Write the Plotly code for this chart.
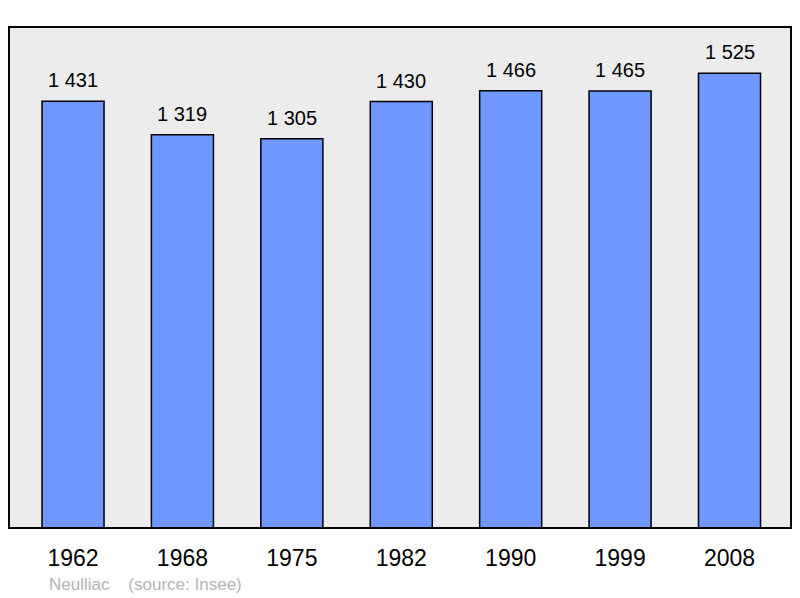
import plotly.graph_objects as go

years = ["1962", "1968", "1975", "1982", "1990", "1999", "2008"]
population = [1431, 1319, 1305, 1430, 1466, 1465, 1525]
labels = ["1 431", "1 319", "1 305", "1 430", "1 466", "1 465", "1 525"]
source_text = "Neulliac    (source: Insee)"

xs = list(range(len(years)))
FONT = "Liberation Sans, Arial, sans-serif"

fig = go.Figure()
fig.add_trace(go.Bar(
    x=xs, y=population, width=0.567,
    marker=dict(color="#7096ff", line=dict(color="#000000", width=1.5)),
    hoverinfo="skip",
))

for x, y, t in zip(xs, population, labels):
    fig.add_annotation(x=x, y=y, text=t, showarrow=False, xanchor="center",
                       yanchor="middle", yshift=21,
                       font=dict(family=FONT, size=20, color="#000"))

fig.add_annotation(x=38 / 782, y=-56 / 501, xref="paper", yref="paper",
                   xanchor="left", yanchor="middle", text=source_text.replace(" ", "&nbsp;"),
                   showarrow=False,
                   font=dict(family=FONT, size=17, color="#b4b4b4"))

fig.add_shape(type="rect", xref="paper", yref="paper", x0=0, x1=1, y0=0, y1=1,
              line=dict(color="#000", width=2), fillcolor="rgba(0,0,0,0)", layer="above")

fig.update_layout(
    width=792, height=590,
    margin=dict(l=1, r=9, t=19, b=70),
    paper_bgcolor="#ffffff", plot_bgcolor="#ececec",
    showlegend=False,
    xaxis=dict(range=[-0.585, 6.562], tickvals=xs, ticktext=years, showgrid=False,
               zeroline=False, ticks="outside", ticklen=9, tickcolor="rgba(0,0,0,0)",
               tickfont=dict(family=FONT, size=23, color="#000"),
               fixedrange=True),
    yaxis=dict(range=[0, 1680], showgrid=False, zeroline=False, showticklabels=False,
               fixedrange=True),
)
fig.write_html("out.html")
